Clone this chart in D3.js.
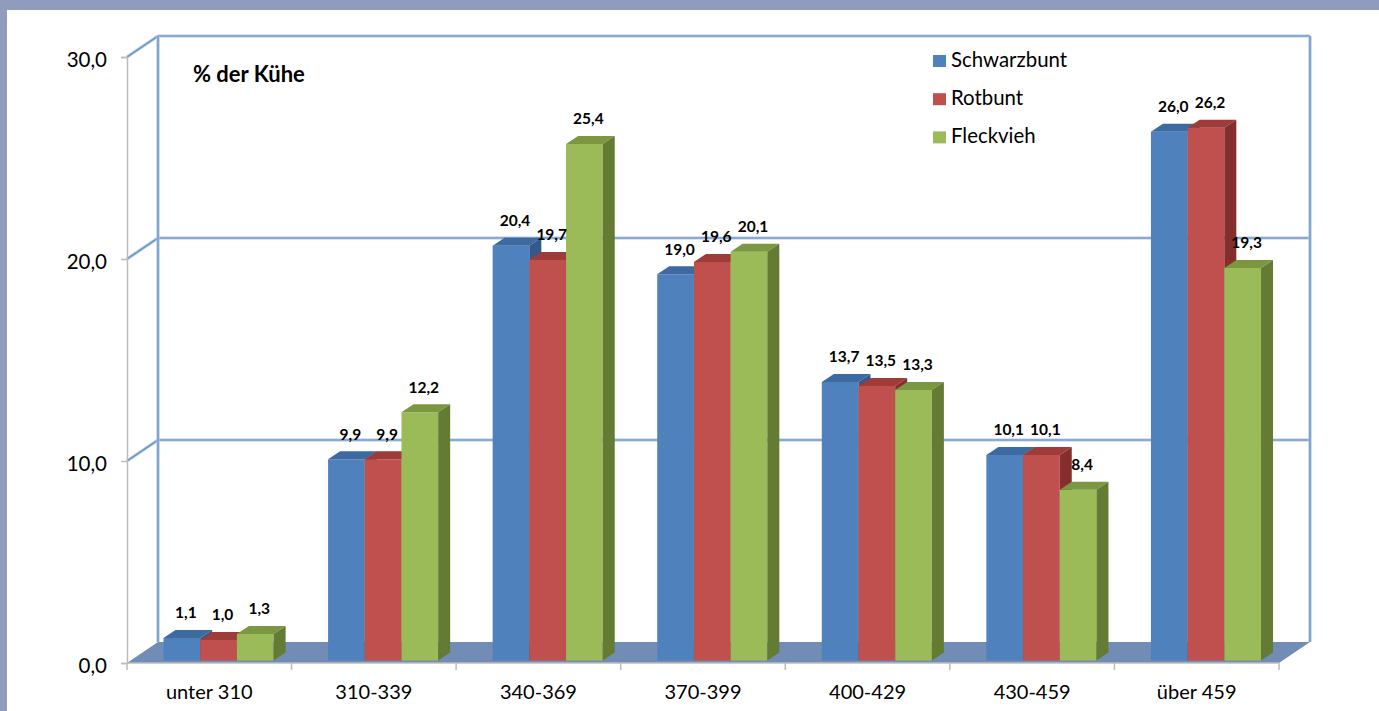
<!DOCTYPE html>
<html>
<head>
<meta charset="utf-8">
<script src="https://cdn.jsdelivr.net/npm/d3@7"></script>
<style>
  html, body { margin: 0; padding: 0; background: #fff; }
  svg { display: block; }
  text { font-family: Lato, "Open Sans", sans-serif; fill: #000; }
</style>
</head>
<body>
<svg id="chart" width="1379" height="711"></svg>
<script>
// ---- data ----
const categories = ["unter 310", "310-339", "340-369", "370-399", "400-429", "430-459", "über 459"];
const seriesNames = ["Schwarzbunt", "Rotbunt", "Fleckvieh"];
const schwarzbunt = [1.1, 9.9, 20.4, 19.0, 13.7, 10.1, 26.0];
const rotbunt     = [1.0, 9.9, 19.7, 19.6, 13.5, 10.1, 26.2];
const fleckvieh   = [1.3, 12.2, 25.4, 20.1, 13.3, 8.4, 19.3];
const yTicks = [0, 10, 20, 30];
const yTitle = "% der Kühe";

const seriesValues = [schwarzbunt, rotbunt, fleckvieh];
const colors = {
  front: ["#4f81bd", "#c0504d", "#9bbb59"],
  top:   ["#3e6aa2", "#9e3c39", "#7b973f"],
  side:  ["#335a8a", "#842f2d", "#647b33"]
};

const svg = d3.select("#chart");
const W = 1379, H = 711;

// frame
svg.append("rect").attr("x", 0).attr("y", 0).attr("width", W).attr("height", H).attr("fill", "#8f9cbe");
svg.append("rect").attr("x", 7).attr("y", 10).attr("width", W - 7).attr("height", H - 10).attr("fill", "#ffffff");

// scales
const x0 = 127, x1 = 1279;
const y = d3.scaleLinear().domain([0, 30]).range([663, 57]);       // front plane
const yBar = d3.scaleLinear().domain([0, 30]).range([660.4, 50.5]); // bar plane
const depth = { dx: 31, dy: -21 };   // wall depth
const barDepth = { dx: 12, dy: -8 };  // bar depth
const xCat = d3.scaleBand().domain(categories).range([x0, x1]).padding(0);
const xSer = d3.scaleBand().domain(seriesNames).range([36.5, 36.5 + 110.1]).padding(0);

const fmt = v => d3.format(".1f")(v).replace(".", ",");

// floor
const floor = [[x0, y(0)], [x1, y(0)], [x1 + depth.dx, y(0) + depth.dy], [x0 + depth.dx, y(0) + depth.dy]];
svg.append("polygon").attr("points", floor.map(p => p.join(",")).join(" ")).attr("fill", "#718db5");

// back wall & side wall grid lines
function blueLine(g, xa, ya, xb, yb) {
  g.append("line").attr("x1", xa).attr("y1", ya).attr("x2", xb).attr("y2", yb)
    .attr("stroke", "#b3c8e3").attr("stroke-width", 3.2);
  g.append("line").attr("x1", xa).attr("y1", ya).attr("x2", xb).attr("y2", yb)
    .attr("stroke", "#5f8dc6").attr("stroke-width", 1.2);
}
const grid = svg.append("g");
yTicks.filter(t => t > 0).forEach(t => {
  const yy = y(t) + depth.dy;
  blueLine(grid, x0 + depth.dx, yy, x1 + depth.dx, yy);
  blueLine(grid, x0, y(t), x0 + depth.dx, yy);
});
blueLine(grid, x0 + depth.dx, y(30) + depth.dy, x0 + depth.dx, y(0) + depth.dy);
blueLine(grid, x1 + depth.dx, y(30) + depth.dy, x1 + depth.dx, y(0) + depth.dy);

// axes (grey)
const axisCol = "#bcbcbc";
const yAxis = d3.axisLeft(y).tickValues(yTicks).tickSize(6).tickFormat(fmt);
const yg = svg.append("g").attr("transform", `translate(${x0},0)`).call(yAxis);
yg.select(".domain").attr("stroke", axisCol).attr("stroke-width", 1.5);
yg.selectAll(".tick line").attr("stroke", axisCol).attr("stroke-width", 1.5);
yg.selectAll(".tick text").attr("x", -20).attr("dy", "0.45em").style("font-size", "20.5px").style("font-family", "Lato, sans-serif").attr("fill", "#000");

const xAxisScale = d3.scaleLinear().domain([0, categories.length]).range([x0, x1]);
const xg = svg.append("g");
xg.append("line").attr("x1", x0).attr("x2", x1).attr("y1", y(0)).attr("y2", y(0)).attr("stroke", axisCol).attr("stroke-width", 1.5);
d3.range(categories.length + 1).forEach(i => {
  xg.append("line").attr("x1", xAxisScale(i)).attr("x2", xAxisScale(i)).attr("y1", y(0)).attr("y2", y(0) + 7)
    .attr("stroke", axisCol).attr("stroke-width", 1.5);
});
xg.selectAll("text.cat").data(categories).join("text").attr("class", "cat")
  .attr("x", d => xCat(d) + xCat.bandwidth() / 2).attr("y", 699)
  .attr("text-anchor", "middle").style("font-size", "20px").text(d => d);

// bars
const barsG = svg.append("g");
const labelsG = svg.append("g");
categories.forEach((c, ci) => {
  seriesNames.forEach((s, si) => {
    const v = seriesValues[si][ci];
    const xl = xCat(c) + xSer(s);
    const xr = xl + xSer.bandwidth();
    const yt = yBar(v), yb = yBar(0);
    const g = barsG.append("g");
    g.append("polygon").attr("points", [[xl, yt], [xr, yt], [xr, yb], [xl, yb]].map(p => p.join(",")).join(" "))
      .attr("fill", colors.front[si]);
    g.append("polygon").attr("points", [[xl, yt], [xr, yt], [xr + barDepth.dx, yt + barDepth.dy], [xl + barDepth.dx, yt + barDepth.dy]].map(p => p.join(",")).join(" "))
      .attr("fill", colors.top[si]);
    g.append("polygon").attr("points", [[xr, yt], [xr + barDepth.dx, yt + barDepth.dy], [xr + barDepth.dx, yb + barDepth.dy], [xr, yb]].map(p => p.join(",")).join(" "))
      .attr("fill", colors.side[si]);
    labelsG.append("text")
      .attr("x", (xl + xr) / 2 + 4).attr("y", yt - 25)
      .attr("dy", "0.35em").attr("text-anchor", "middle")
      .style("font-size", "15.5px").style("font-weight", "bold")
      .text(fmt(v));
  });
});

// title
svg.append("text").attr("x", 193).attr("y", 82).style("font-size", "22px").style("font-weight", "bold").text(yTitle);

// legend
const leg = svg.append("g");
seriesNames.forEach((s, i) => {
  const by = 66.5 + i * 38.2;
  leg.append("rect").attr("x", 933).attr("y", by - 11.5).attr("width", 13).attr("height", 12).attr("fill", colors.front[i]);
  leg.append("text").attr("x", 951).attr("y", by).style("font-size", "20.4px").text(s);
});
</script>
</body>
</html>
